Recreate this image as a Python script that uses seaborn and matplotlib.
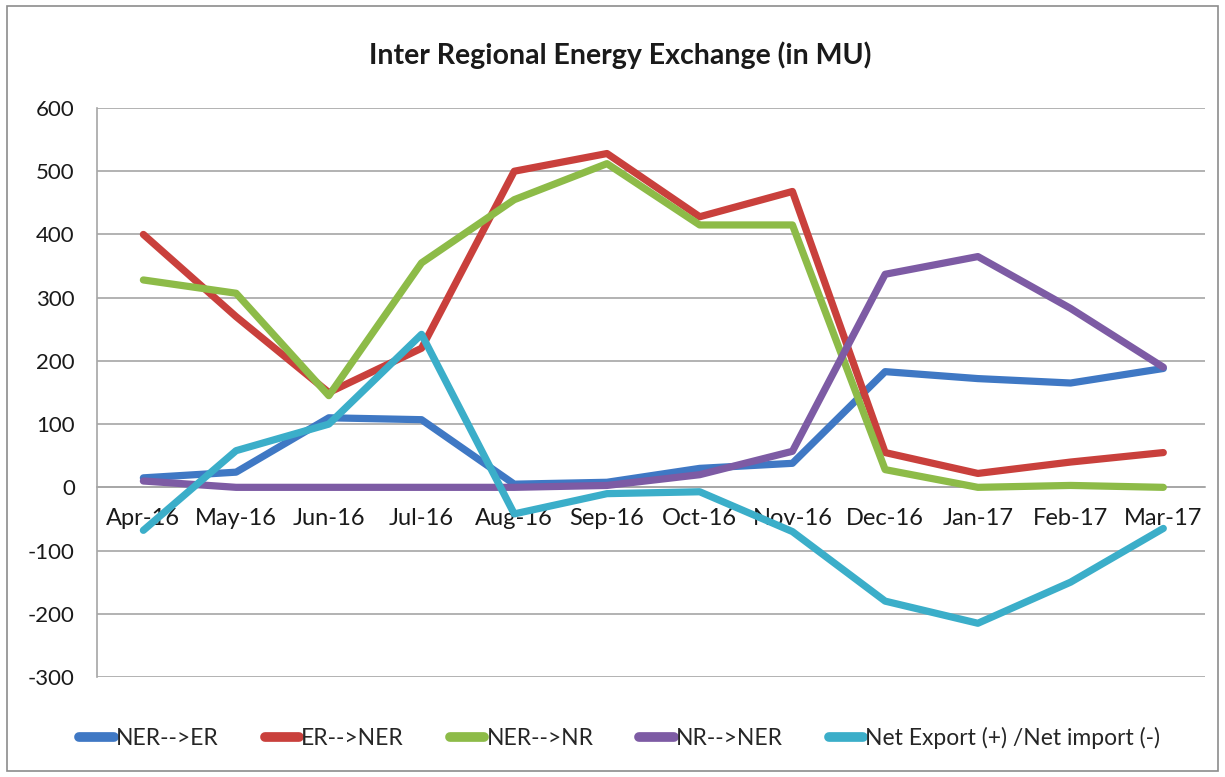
import pandas as pd
import matplotlib.pyplot as plt
import seaborn as sns
from matplotlib.lines import Line2D
from matplotlib.patches import Rectangle

# Data (MU)
months = ['Apr-16', 'May-16', 'Jun-16', 'Jul-16', 'Aug-16', 'Sep-16',
          'Oct-16', 'Nov-16', 'Dec-16', 'Jan-17', 'Feb-17', 'Mar-17']
ner_er = [15, 24, 110, 107, 5, 8, 30, 38, 183, 172, 165, 188]
er_ner = [400, 270, 150, 220, 500, 528, 428, 468, 55, 22, 40, 55]
ner_nr = [328, 307, 145, 355, 455, 512, 415, 415, 28, 0, 3, 0]
nr_ner = [10, 0, 0, 0, 0, 3, 20, 57, 337, 365, 283, 190]
net = [-68, 58, 100, 242, -42, -10, -7, -70, -180, -215, -150, -65]

series = ['NER-->ER', 'ER-->NER', 'NER-->NR', 'NR-->NER', 'Net Export (+) /Net import (-)']
colors = ['#3F78C4', '#C9403C', '#8DBB48', '#7D5BA4', '#3BAEC9']

rows = []
for name, vals in zip(series, [ner_er, er_ner, ner_nr, nr_ner, net]):
    for i, v in enumerate(vals):
        rows.append({'idx': i, 'month': months[i], 'value': v, 'series': name})
df = pd.DataFrame(rows)

sns.set_style('white')
plt.rcParams['font.family'] = ['Lato', 'DejaVu Sans']
plt.rcParams['axes.unicode_minus'] = False

fig = plt.figure(figsize=(12.25, 7.77), dpi=100)
fig.patches.append(Rectangle((0.006, 0.008), 0.988, 0.984, transform=fig.transFigure,
                             fill=False, edgecolor='#8c8c8c', linewidth=1.2))
ax = fig.add_axes([0.0792, 0.1287, 0.9045, 0.7323])

sns.lineplot(data=df, x='idx', y='value', hue='series', hue_order=series,
             palette=colors, linewidth=5.2, sort=False, legend=False, ax=ax)

ax.set_ylim(-300, 600)
ax.set_xlim(-0.5, 11.45)
ax.set_yticks(range(-300, 601, 100))
ax.set_xticks(range(len(months)))
ax.set_xticklabels(months)
ax.yaxis.grid(True, color='#a6a6a6', linewidth=1.2)
ax.set_axisbelow(True)
for s in ['top', 'right']:
    ax.spines[s].set_visible(False)
ax.spines['left'].set_color('#a6a6a6')
ax.spines['left'].set_linewidth(1.2)
ax.spines['bottom'].set_position(('data', 0))
ax.spines['bottom'].set_color('#a6a6a6')
ax.spines['bottom'].set_linewidth(1.2)
ax.spines['bottom'].set_zorder(0)
ax.tick_params(axis='x', length=0, labelsize=17, labelcolor='#1a1a1a', pad=15)
ax.tick_params(axis='y', length=0, labelsize=16, labelcolor='#1a1a1a', pad=16)
ax.set_xlabel('')
ax.set_ylabel('')

fig.text(0.506, 0.929, 'Inter Regional Energy Exchange (in MU)', ha='center', va='center',
         fontsize=20.5, fontweight='bold', color='#1a1a1a')

handles = [Line2D([0], [0], color=c, linewidth=7, solid_capstyle='round') for c in colors]
fig.legend(handles, series, loc='center', bbox_to_anchor=(0.506, 0.05), ncol=5,
           frameon=False, fontsize=16.5, handlelength=1.5, handletextpad=0.1,
           columnspacing=2.0)

plt.savefig('out.png', dpi=100)
